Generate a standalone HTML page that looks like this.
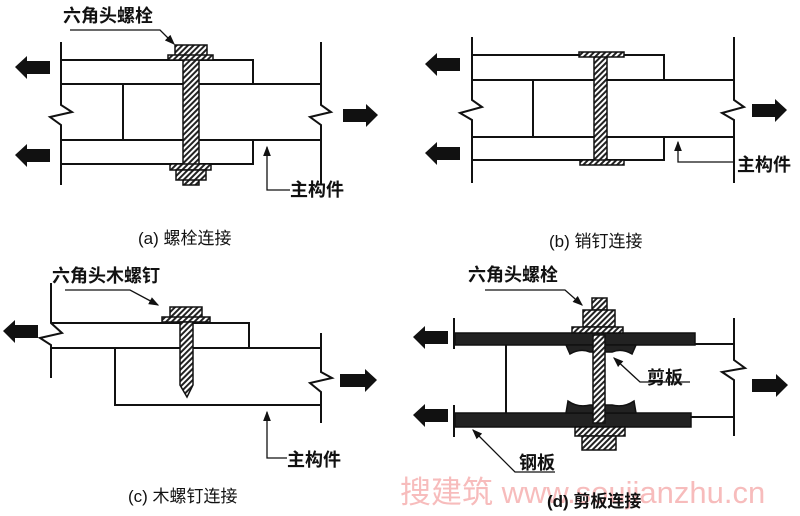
<!DOCTYPE html>
<html><head><meta charset="utf-8"><style>
html,body{margin:0;padding:0;background:#fff;}
svg{display:block}
text{font-family:"Liberation Sans","Noto Sans CJK SC",sans-serif;fill:#111;}
.lb{font-size:18px;font-weight:bold;}
.cp{font-size:17px;}
</style></head><body>
<svg width="800" height="516" viewBox="0 0 800 516" xmlns="http://www.w3.org/2000/svg">
<defs>
<pattern id="h" width="4" height="4" patternUnits="userSpaceOnUse" patternTransform="rotate(45)">
<rect width="4" height="4" fill="#fff"/><rect width="2" height="4" fill="#222"/></pattern>
<marker id="ah" markerWidth="8" markerHeight="8" refX="7" refY="4" orient="auto"><path d="M0,1 L8,4 L0,7 Z" fill="#111"/></marker>
</defs>
<g stroke="#111" stroke-width="2" fill="none">
<path d="M61,42 V105 L72,112 L50,117 L61,125 V185"/>
<path d="M321,42 V105 L331,112 L310,117 L321,125 V185"/>
<path d="M61,60 H253 V84 M61,84 H321 M123,84 V140 M61,140 H321 M253,141 V164 H61"/>
<path d="M472,37 V100 L482,107 L460,113 L472,120 V183"/>
<path d="M734,37 V100 L744,107 L722,113 L734,120 V183"/>
<path d="M472,55 H664 V80 M472,80 H734 M533,80 V137 M472,137 H734 M664,137 V160 H472"/>
<path d="M51,283 V323 L62,333 L40,338 L51,345 V378"/>
<path d="M321,333 V372 L332,378 L310,383 L321,392 V423"/>
<path d="M51,323 H249 V348 M51,348 H321 M115,348 V405 H321"/>
<path d="M454,318 V349 M454,405 V437"/>
<path d="M734,318 V360 L745,368 L722,372 L734,380 V436"/>
<path d="M693,344 H734 M691,417 H734 M506,345 V413"/>
</g>
<g fill="#111">
<path d="M15,67 L27,56 V61 H50 V74 H27 V79 Z"/>
<path d="M15,155 L27,144 V149 H50 V162 H27 V167 Z"/>
<path d="M378,115 L366,104 V109 H343 V122 H366 V127 Z"/>
<path d="M425,64 L437,53 V58 H460 V71 H437 V76 Z"/>
<path d="M425,153 L437,142 V147 H460 V160 H437 V165 Z"/>
<path d="M787,110 L775,99 V104 H752 V117 H775 V122 Z"/>
<path d="M3,331 L15,320 V325 H38 V338 H15 V343 Z"/>
<path d="M377,380 L365,369 V374 H340 V387 H365 V392 Z"/>
<path d="M413,337 L425,326 V331 H448 V344 H425 V349 Z"/>
<path d="M413,415 L425,404 V409 H448 V422 H425 V427 Z"/>
<path d="M788,385 L776,374 V379 H752 V392 H776 V397 Z"/>
</g>
<g stroke="#111" stroke-width="1.5">
<rect x="183" y="57" width="16" height="128" fill="url(#h)"/>
<rect x="175" y="45" width="32" height="11" fill="url(#h)"/>
<rect x="168" y="55" width="45" height="5" fill="url(#h)"/>
<rect x="170" y="164" width="41" height="6" fill="url(#h)"/>
<rect x="176" y="170" width="30" height="10" fill="url(#h)"/>
<rect x="594" y="56" width="13" height="106" fill="url(#h)"/>
<rect x="579" y="52" width="45" height="5" fill="url(#h)"/>
<rect x="580" y="160" width="44" height="5" fill="url(#h)"/>
<rect x="170" y="307" width="32" height="11" fill="url(#h)"/>
<rect x="162" y="317" width="48" height="5" fill="url(#h)"/>
<path d="M180,322 H193 V385 L187,397 L180,385 Z" fill="url(#h)"/>
<rect x="455" y="333" width="240" height="12" fill="#222"/>
<rect x="455" y="413" width="236" height="14" fill="#222"/>
<path d="M566,345 L570,354 Q580,348 590,352 H612 Q622,348 632,354 L636,345 Z" fill="#222"/>
<path d="M566,413 L568,401 Q578,408 590,405 H612 Q624,408 634,401 L636,413 Z" fill="#222"/>
<rect x="593" y="335" width="12" height="88" fill="url(#h)"/>
<rect x="592" y="298" width="15" height="12" fill="url(#h)"/>
<rect x="583" y="310" width="32" height="17" fill="url(#h)"/>
<rect x="572" y="327" width="51" height="6" fill="url(#h)"/>
<rect x="575" y="427" width="50" height="9" fill="url(#h)"/>
<rect x="582" y="436" width="34" height="14" fill="url(#h)"/>
</g>
<g stroke="#111" stroke-width="1.3" fill="none">
<path d="M70,30 H160 L174,44" marker-end="url(#ah)"/>
<path d="M290,190 H267 V147" marker-end="url(#ah)"/>
<path d="M735,162 H678 V142" marker-end="url(#ah)"/>
<path d="M65,290 H130 L158,305" marker-end="url(#ah)"/>
<path d="M287,458 H267 V412" marker-end="url(#ah)"/>
<path d="M485,290 H565 L582,305" marker-end="url(#ah)"/>
<path d="M690,382 H640 L614,358" marker-end="url(#ah)"/>
<path d="M555,472 H515 L473,430" marker-end="url(#ah)"/>
</g>
<text class="lb" x="63" y="22">六角头螺栓</text>
<text class="lb" x="290" y="196">主构件</text>
<text class="cp" x="138" y="244">(a) 螺栓连接</text>
<text class="lb" x="737" y="171">主构件</text>
<text class="cp" x="549" y="247">(b) 销钉连接</text>
<text class="lb" x="52" y="282">六角头木螺钉</text>
<text class="lb" x="287" y="466">主构件</text>
<text class="cp" x="128" y="502">(c) 木螺钉连接</text>
<text class="lb" x="468" y="281">六角头螺栓</text>
<text class="lb" x="647" y="384">剪板</text>
<text class="lb" x="519" y="469">钢板</text>
<text x="400" y="503" style="font-size:31px;fill:#f7bcbc;">搜建筑 www.soujianzhu.cn</text>
<text class="cp" x="547" y="507" style="font-weight:bold">(d) 剪板连接</text>
</svg>
</body></html>
